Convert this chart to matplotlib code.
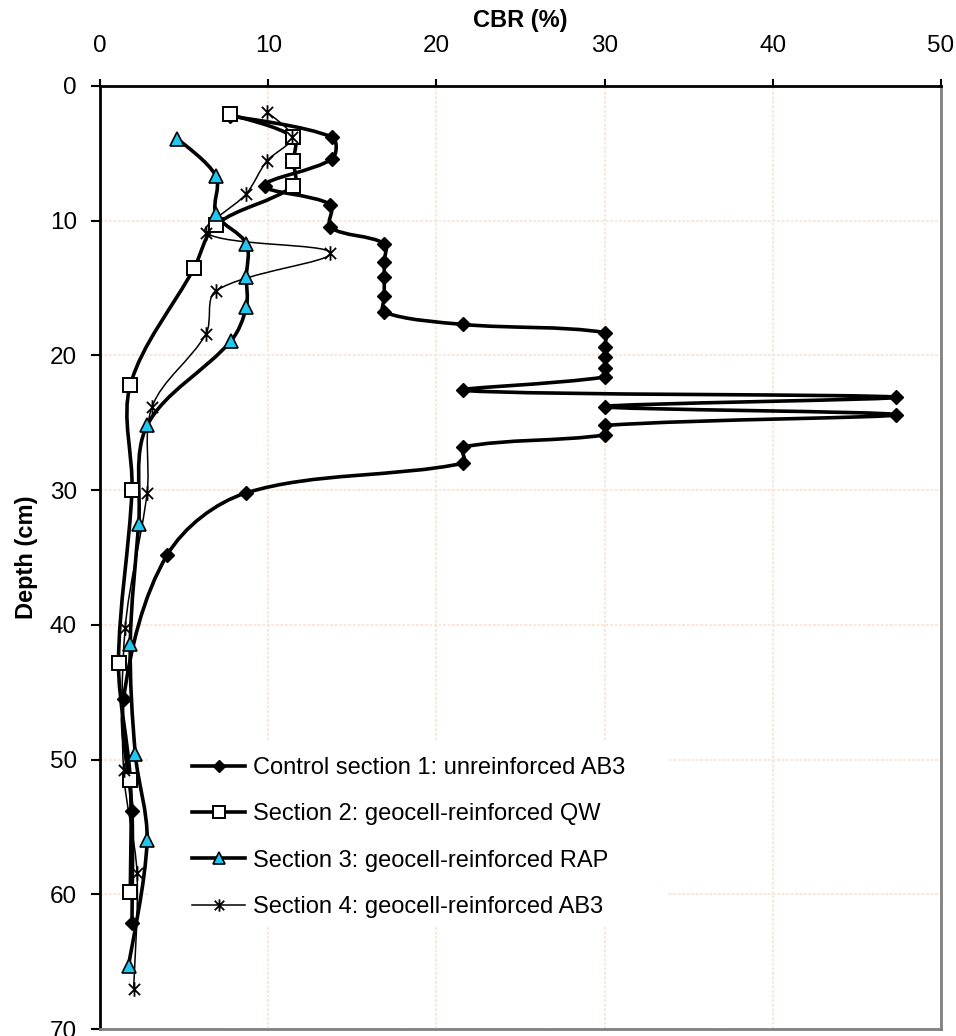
import numpy as np
import matplotlib
matplotlib.use("Agg")
import matplotlib.pyplot as plt
from matplotlib.path import Path
from matplotlib.patches import PathPatch, Rectangle
from matplotlib.lines import Line2D

plt.rcParams['font.family'] = ['Liberation Sans', 'DejaVu Sans']

# ---- data (CBR %, depth cm) ----
s1_cbr = [7.7, 13.8, 13.8, 9.8, 13.7, 13.7, 16.9, 16.9, 16.9, 16.9, 16.9, 21.6, 30.0, 30.0,
          30.0, 30.0, 30.0, 21.6, 47.3, 30.0, 47.3, 30.0, 30.0, 21.6, 21.6, 8.7, 4.0, 1.4, 1.9, 1.9]
s1_depth = [2.2, 3.8, 5.4, 7.4, 8.8, 10.5, 11.7, 13.1, 14.2, 15.6, 16.8, 17.7, 18.3, 19.4,
            20.1, 20.9, 21.6, 22.6, 23.1, 23.8, 24.4, 25.2, 25.9, 26.8, 28.0, 30.2, 34.8, 45.5, 53.8, 62.1]

s2_cbr = [7.7, 11.5, 11.5, 11.5, 6.9, 5.6, 1.8, 1.9, 1.1, 1.8, 1.8]
s2_depth = [2.1, 3.8, 5.6, 7.4, 10.3, 13.5, 22.2, 30.0, 42.8, 51.5, 59.8]

s3_cbr = [4.6, 6.9, 6.9, 8.7, 8.7, 8.7, 7.8, 2.8, 2.3, 1.8, 2.1, 2.8, 1.7]
s3_depth = [3.9, 6.7, 9.5, 11.7, 14.2, 16.4, 18.9, 25.2, 32.5, 41.4, 49.6, 56.0, 65.3]

s4_cbr = [9.9, 11.4, 9.9, 8.7, 6.3, 13.7, 6.9, 6.3, 3.1, 2.8, 1.5, 1.4, 2.2, 2.0]
s4_depth = [1.9, 3.8, 5.6, 8.0, 10.9, 12.4, 15.2, 18.4, 23.8, 30.2, 40.2, 50.8, 58.4, 67.0]

labels = ['Control section 1: unreinforced AB3',
          'Section 2: geocell-reinforced QW',
          'Section 3: geocell-reinforced RAP',
          'Section 4: geocell-reinforced AB3']

x_ticks = [0, 10, 20, 30, 40, 50]
y_ticks = [0, 10, 20, 30, 40, 50, 60, 70]

W, H = 956, 1036
AX_L, AX_R, AX_T, AX_B = 100, 941, 86, 1029
XMAX, YMAX = 50, 70
SX = (AX_R - AX_L) / XMAX   # px per CBR unit (for smoothing distances)
SY = (AX_B - AX_T) / YMAX   # px per cm

# ---- smoothed (Excel-like, length-weighted) path through points ----
def smooth_path(xs, ys):
    P = np.column_stack([xs, ys]).astype(float)
    n = len(P)
    scale = np.array([SX, SY])

    def dist(a, b):
        return float(np.hypot(*((a - b) * scale)))

    verts = [P[0]]
    codes = [Path.MOVETO]
    for i in range(n - 1):
        p0 = P[i - 1] if i > 0 else P[i]
        p1 = P[i]
        p2 = P[i + 1]
        p3 = P[i + 2] if i + 2 < n else P[i + 1]
        d01, d12, d23 = dist(p0, p1), dist(p1, p2), dist(p2, p3)
        w1 = d12 / (d01 + d12) / 3.0 if (d01 + d12) > 0 else 0
        w2 = d12 / (d12 + d23) / 3.0 if (d12 + d23) > 0 else 0
        if i == 0:
            w1 = 1 / 6.0
        if i + 2 >= n:
            w2 = 1 / 6.0
        c1 = p1 + (p2 - p0) * w1
        c2 = p2 - (p3 - p1) * w2
        verts += [c1, c2, p2]
        codes += [Path.CURVE4] * 3
    return Path(verts, codes)

star = Path([(-1, -1), (1, 1), (-1, 1), (1, -1), (0, -1.3), (0, 1.3)],
            [Path.MOVETO, Path.LINETO, Path.MOVETO, Path.LINETO, Path.MOVETO, Path.LINETO])

fig = plt.figure(figsize=(W / 100, H / 100), dpi=100)
ax = fig.add_axes([AX_L / W, 1 - AX_B / H, (AX_R - AX_L) / W, (AX_B - AX_T) / H])

def axfrac(px, py):
    return (px - AX_L) / (AX_R - AX_L), (AX_B - py) / (AX_B - AX_T)

series = [
    dict(x=s1_cbr, y=s1_depth, lw=2.6, marker='D', ms=7, mfc='black', mec='black', mew=1),
    dict(x=s2_cbr, y=s2_depth, lw=2.6, marker='s', ms=10, mfc='white', mec='black', mew=1.4),
    dict(x=s3_cbr, y=s3_depth, lw=2.6, marker='^', ms=9.5, mfc='#1EC8F0', mec='black', mew=1.2),
    dict(x=s4_cbr, y=s4_depth, lw=1.1, marker=star, ms=10.5, mfc='none', mec='black', mew=1.3),
]

handles = []
for s, lab in zip(series, labels):
    p = PathPatch(smooth_path(s['x'], s['y']), facecolor='none', edgecolor='black',
                  lw=s['lw'], zorder=3, capstyle='round', joinstyle='round')
    ax.add_patch(p)
    ax.plot(s['x'], s['y'], linestyle='none', marker=s['marker'], ms=s['ms'],
            mfc=s['mfc'], mec=s['mec'], mew=s['mew'], zorder=4)
    handles.append(Line2D([], [], color='black', lw=s['lw'], marker=s['marker'], ms=s['ms'] * 0.85,
                          mfc=s['mfc'], mec=s['mec'], mew=s['mew']))

ax.set_xlim(0, XMAX)
ax.set_ylim(YMAX, 0)
ax.xaxis.tick_top()
ax.xaxis.set_label_position('top')
ax.set_xticks(x_ticks)
ax.set_yticks(y_ticks)
ax.tick_params(axis='x', which='major', direction='out', length=5, width=1.5, labelsize=17.5, pad=16)
ax.tick_params(axis='y', which='major', direction='out', length=6.5, width=1.5, labelsize=17.5, pad=10)
ax.set_xlabel('CBR (%)', fontsize=17, fontweight='bold')
ax.set_ylabel('Depth (cm)', fontsize=17, fontweight='bold')
ax.xaxis.label.set_va('center')
ax.yaxis.label.set_va('center')
ax.xaxis.set_label_coords(0.5, axfrac(0, 21)[1])
ax.yaxis.set_label_coords(axfrac(26, 0)[0], 0.5)

ax.grid(True, color='#FBE3D2', linestyle=(0, (1.5, 1)), linewidth=1.3, zorder=0)
ax.set_axisbelow(True)

for side in ['top', 'left']:
    ax.spines[side].set_color('black')
    ax.spines[side].set_linewidth(2)
for side in ['bottom', 'right']:
    ax.spines[side].set_color('#808080')
    ax.spines[side].set_linewidth(2)

# white legend area (covers gridlines)
x0, y1 = axfrac(150, 925)
x1, y0 = axfrac(667, 740)
ax.add_patch(Rectangle((x0, y1), x1 - x0, y0 - y1, transform=ax.transAxes,
                       facecolor='white', edgecolor='none', zorder=2))

lx, ly = axfrac(192, 757)
leg = ax.legend(handles, labels, loc='upper left', bbox_to_anchor=(lx, ly),
                frameon=False, fontsize=17, handlelength=2.25, handletextpad=0.35,
                labelspacing=1.03, borderpad=0, borderaxespad=0)
leg.set_zorder(5)

fig.savefig('out.png', dpi=100)
